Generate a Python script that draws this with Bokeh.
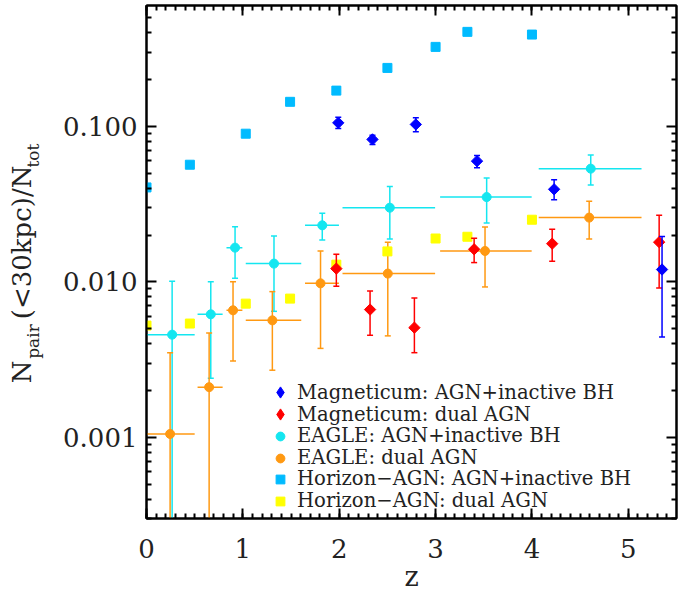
import numpy as np
from bokeh.plotting import figure
from bokeh.models import (ColumnDataSource, LinearAxis, LogAxis, FixedTicker,
                          PrintfTickFormatter, Range1d, Legend, LegendItem)
from bokeh.embed import file_html
from bokeh.resources import INLINE

# ---------------- data ----------------
# Horizon-AGN
hz_z = [0.0, 0.45, 1.03, 1.49, 1.97, 2.50, 3.00, 3.33, 4.00]
hz_agn_inactive = [0.0405, 0.0567, 0.0898, 0.144, 0.170, 0.238, 0.325, 0.406, 0.390]
hz_dual = [0.00523, 0.00539, 0.00724, 0.0078, 0.0129, 0.0157, 0.019, 0.0195, 0.0251]

# Magneticum AGN+inactive BH
mg1_z = [1.99, 2.345, 2.795, 3.43, 4.23, 5.35]
mg1_v = [0.1055, 0.0825, 0.103, 0.0598, 0.0394, 0.0120]
mg1_lo = [0.0971, 0.0766, 0.0925, 0.0543, 0.0338, 0.00442]
mg1_hi = [0.1147, 0.0879, 0.1137, 0.0651, 0.0454, 0.0196]

# Magneticum dual AGN
mg2_z = [1.97, 2.32, 2.78, 3.40, 4.21, 5.32]
mg2_v = [0.01216, 0.00663, 0.00507, 0.0162, 0.0176, 0.0180]
mg2_lo = [0.00937, 0.00453, 0.0035, 0.0133, 0.01355, 0.00912]
mg2_hi = [0.01504, 0.00873, 0.00787, 0.0191, 0.0218, 0.0268]

# EAGLE bins
eg_zlo = [0.0, 0.53, 0.83, 1.03, 1.645, 2.034, 3.047, 4.07]
eg_zhi = [0.50, 0.79, 0.995, 1.606, 1.997, 2.995, 3.997, 5.137]

# EAGLE AGN+inactive BH
eg1_z = [0.266, 0.667, 0.919, 1.323, 1.824, 2.525, 3.53, 4.61]
eg1_v = [0.00457, 0.00618, 0.0166, 0.0131, 0.0231, 0.030, 0.0351, 0.0535]
eg1_lo = [1e-4, 0.0024, 0.01054, 0.00646, 0.0186, 0.01886, 0.0239, 0.042]
eg1_hi = [0.0101, 0.0100, 0.0226, 0.0197, 0.0276, 0.0411, 0.0465, 0.0654]

# EAGLE dual AGN
eg2_z = [0.245, 0.65, 0.898, 1.306, 1.806, 2.504, 3.513, 4.594]
eg2_v = [0.00105, 0.0021, 0.00656, 0.00565, 0.00978, 0.0113, 0.0158, 0.0259]
eg2_lo = [1e-4, 1e-4, 0.0031, 0.0027, 0.00373, 0.00449, 0.00927, 0.01886]
eg2_hi = [0.0035, 0.00469, 0.0100, 0.00865, 0.0158, 0.018, 0.0225, 0.033]

x_major = [0, 1, 2, 3, 4, 5]
y_major = [0.001, 0.01, 0.1]

legend_labels = ["Magneticum: AGN+inactive BH", "Magneticum: dual AGN",
                 "EAGLE: AGN+inactive BH", "EAGLE: dual AGN",
                 "Horizon\u2212AGN: AGN+inactive BH", "Horizon\u2212AGN: dual AGN"]

# ---------------- styling ----------------
FONT = "DejaVu Serif"
C_BLUE = "#0000ff"
C_RED = "#ff0000"
C_CYAN = "#14e6f0"
C_ORANGE = "#ff9912"
C_SKY = "#00bbff"
C_YELLOW = "#ffff00"
TXT = "#222222"

p = figure(width=688, height=596, x_range=Range1d(0, 5.5), y_range=Range1d(3e-4, 0.6),
           y_axis_type="log", output_backend="svg", toolbar_location=None,
           min_border_left=146, min_border_right=12, min_border_top=5, min_border_bottom=78)
p.grid.visible = False
p.outline_line_color = "black"
p.outline_line_width = 2
p.background_fill_color = "white"
p.border_fill_color = "white"

x_minor = [i / 10 for i in range(0, 55)]
y_minor = [m * 10.0 ** k for k in (-4, -3, -2, -1) for m in range(2, 10)]

def style_axis(ax, show_labels):
    ax.axis_line_width = 2
    ax.major_tick_in = 10
    ax.major_tick_out = 0
    ax.minor_tick_in = 5
    ax.minor_tick_out = 0
    ax.major_tick_line_width = 2
    ax.minor_tick_line_width = 2
    ax.major_label_text_font = FONT
    if show_labels:
        ax.major_label_text_font_size = "26px"
        ax.major_label_text_color = TXT
    else:
        ax.major_label_text_font_size = "1px"
        ax.major_label_text_alpha = 0
        ax.major_label_standoff = 0
        ax.axis_label_standoff = 0

xb = p.xaxis[0]
xb.ticker = FixedTicker(ticks=x_major, minor_ticks=x_minor)
style_axis(xb, True)
xb.major_label_standoff = 20
xb.axis_label = "z"
xb.axis_label_text_font = FONT
xb.axis_label_text_font_size = "27px"
xb.axis_label_text_font_style = "normal"
xb.axis_label_text_color = TXT
xb.axis_label_standoff = 0

# y label: N_pair(<30kpc)/N_tot -> main line and subscript line as two axis labels
NB = "\u00a0"
main_line = "N" + NB * 5 + "(<30kpc)/N" + NB * 3
sub_line = NB * 4 + "pair" + NB * 29 + "tot"

yl = p.yaxis[0]
yl.ticker = FixedTicker(ticks=y_major, minor_ticks=y_minor)
yl.formatter = PrintfTickFormatter(format="%.3f")
style_axis(yl, True)
yl.major_label_standoff = 9
yl.axis_label = sub_line
yl.axis_label_text_font = FONT
yl.axis_label_text_font_size = "17px"
yl.axis_label_text_font_style = "normal"
yl.axis_label_text_color = TXT
yl.axis_label_standoff = 17

y2 = LogAxis(ticker=FixedTicker(ticks=[]), axis_label=main_line)
y2.axis_line_color = None
y2.major_tick_in = 0
y2.major_tick_out = 0
y2.minor_tick_in = 0
y2.minor_tick_out = 0
y2.major_label_text_font_size = "1px"
y2.major_label_standoff = 0
y2.axis_label_text_font = FONT
y2.axis_label_text_font_size = "26px"
y2.axis_label_text_font_style = "normal"
y2.axis_label_text_color = TXT
y2.axis_label_standoff = -16
p.add_layout(y2, "left")

xt = LinearAxis(ticker=FixedTicker(ticks=x_major, minor_ticks=x_minor))
style_axis(xt, False)
p.add_layout(xt, "above")
yr = LogAxis(ticker=FixedTicker(ticks=y_major, minor_ticks=y_minor))
style_axis(yr, False)
p.add_layout(yr, "right")

# ---------------- glyphs ----------------
def errbars(z, v, lo, hi, color, zlo=None, zhi=None):
    src = ColumnDataSource(dict(z=z, v=v, lo=lo, hi=hi))
    p.segment(x0="z", y0="lo", x1="z", y1="hi", source=src, line_color=color, line_width=1.5)
    p.scatter(x="z", y="lo", source=src, marker="dash", size=6, line_color=color, line_width=1.5)
    p.scatter(x="z", y="hi", source=src, marker="dash", size=6, line_color=color, line_width=1.5)
    if zlo is not None:
        xs = ColumnDataSource(dict(v=v, zlo=zlo, zhi=zhi))
        p.segment(x0="zlo", y0="v", x1="zhi", y1="v", source=xs, line_color=color, line_width=1.5)
    return src

s_eg1 = errbars(eg1_z, eg1_v, eg1_lo, eg1_hi, C_CYAN, eg_zlo, eg_zhi)
r_eg1 = p.scatter(x="z", y="v", source=s_eg1, marker="circle", size=9, fill_color=C_CYAN, line_color=C_CYAN)
s_eg2 = errbars(eg2_z, eg2_v, eg2_lo, eg2_hi, C_ORANGE, eg_zlo, eg_zhi)
r_eg2 = p.scatter(x="z", y="v", source=s_eg2, marker="circle", size=9, fill_color=C_ORANGE, line_color=C_ORANGE)

s_hz = ColumnDataSource(dict(z=hz_z, a=hz_agn_inactive, d=hz_dual))
r_hz1 = p.scatter(x="z", y="a", source=s_hz, marker="square", size=9, fill_color=C_SKY, line_color=C_SKY)
r_hz2 = p.scatter(x="z", y="d", source=s_hz, marker="square", size=9, fill_color=C_YELLOW, line_color=C_YELLOW)

s_mg2 = errbars(mg2_z, mg2_v, mg2_lo, mg2_hi, C_RED)
p.scatter(x="z", y="v", source=s_mg2, marker="square", angle=np.pi / 4, size=8,
          fill_color=C_RED, line_color=C_RED)
s_mg1 = errbars(mg1_z, mg1_v, mg1_lo, mg1_hi, C_BLUE)
p.scatter(x="z", y="v", source=s_mg1, marker="square", angle=np.pi / 4, size=8,
          fill_color=C_BLUE, line_color=C_BLUE)

# legend swatches for the diamonds (no visible point: NaN position)
nan_src = ColumnDataSource(dict(z=[np.nan], v=[np.nan]))
r_mg1 = p.scatter(x="z", y="v", source=nan_src, marker="diamond", fill_color=C_BLUE, line_color=C_BLUE)
r_mg2 = p.scatter(x="z", y="v", source=nan_src, marker="diamond", fill_color=C_RED, line_color=C_RED)

# ---------------- legend: one row per Legend so the row pitch matches ----------------
ROW0, PITCH = 392.0, 21.67          # page-y of the first row centre, row pitch
GLYPH_X = 134                        # glyph centre, px right of the frame's left edge
TEXT_X = 151                         # text start, px right of the frame's left edge
rows = [(r_mg1, 28), (r_mg2, 28), (r_eg1, 22), (r_eg2, 22), (r_hz1, 22), (r_hz2, 22)]
for i, ((rend, gw), lab) in enumerate(zip(rows, legend_labels)):
    centre = ROW0 + i * PITCH
    h = max(gw, 23.4)
    lg = Legend(items=[LegendItem(label=lab, renderers=[rend])],
                location=(int(round(GLYPH_X - gw / 2)), int(round(513 + 5 - centre - h / 2))),
                padding=0, margin=0, spacing=0,
                glyph_width=gw, glyph_height=gw, label_height=20,
                label_standoff=int(round(TEXT_X - (GLYPH_X + gw / 2))),
                label_text_font=FONT, label_text_font_size="19.6px", label_text_color=TXT,
                border_line_color=None, background_fill_alpha=0)
    p.add_layout(lg, "center")

open("out.html", "w").write(file_html(p, INLINE))
